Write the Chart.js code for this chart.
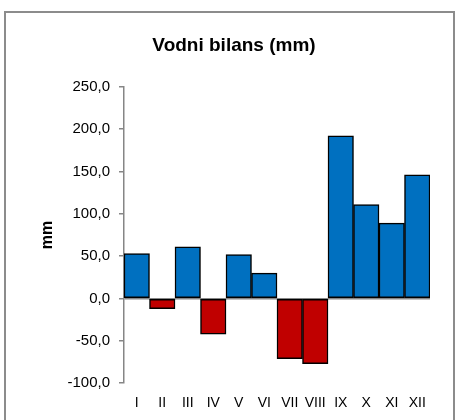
<!DOCTYPE html>
<html>
<head>
<meta charset="utf-8">
<script src="https://cdn.jsdelivr.net/npm/chart.js@4"></script>
<style>
    body { margin: 0; background: #fff; }
    #wrap { position: relative; width: 459px; height: 420px; overflow: hidden; }
    #frame { position: absolute; left: 4px; top: 11px; width: 451px; height: 430px; border: 2px solid #8c8c8c; box-sizing: border-box; }
    canvas { position: absolute; left: 0; top: 0; }
</style>
</head>
<body>
<div id="wrap">
    <div id="frame"></div>
    <canvas id="chart" width="459" height="432"></canvas>
</div>
<script>
const months = ["I", "II", "III", "IV", "V", "VI", "VII", "VIII", "IX", "X", "XI", "XII"];
const balance = [53, -12, 61, -42, 52, 30, -71, -77, 192, 111, 89, 146];
const yTicks = [-100, -50, 0, 50, 100, 150, 200, 250];

const FONT = "'Liberation Sans', Arial, sans-serif";

// blue for surplus, red for deficit
const barColors = balance.map(v => v >= 0 ? "#0070C0" : "#C00000");

const ctx = document.getElementById("chart");

new Chart(ctx, {
    type: "bar",
    data: {
        labels: months,
        datasets: [{
            label: "Vodni bilans",
            data: balance,
            backgroundColor: barColors,
            borderColor: "#000",
            borderWidth: 1.5,
            borderSkipped: false,
            barPercentage: 1,
            categoryPercentage: 1
        }]
    },
    options: {
        responsive: false,
        animation: false,
        layout: { padding: { left: 38, right: 29, top: 0, bottom: 8 } },
        plugins: {
            legend: { display: false },
            tooltip: { enabled: false },
            title: {
                display: true,
                text: "Vodni bilans (mm)",
                color: "#000",
                font: { family: FONT, size: 19, weight: "bold" },
                padding: { top: 34, bottom: 30 }
            }
        },
        scales: {
            x: {
                border: { display: false },
                grid: { display: false, drawTicks: false },
                ticks: { color: "#000", font: { family: FONT, size: 14 }, padding: 12, maxRotation: 0, autoSkip: false }
            },
            y: {
                min: yTicks[0],
                max: yTicks[yTicks.length - 1],
                afterBuildTicks: scale => { scale.ticks = yTicks.map(v => ({ value: v })); },
                afterFit: scale => { scale.width = 86; },
                border: { color: "#868686", width: 1.5 },
                grid: {
                    color: c => c.tick && c.tick.value === 0 ? "#868686" : "rgba(0,0,0,0)",
                    lineWidth: 1.5,
                    tickColor: "#868686",
                    tickLength: 5
                },
                ticks: {
                    color: "#000",
                    font: { family: FONT, size: 15 },
                    padding: 9,
                    callback: v => v.toFixed(1).replace(".", ",")
                },
                title: {
                    display: true,
                    text: "mm",
                    color: "#000",
                    font: { family: FONT, size: 16, weight: "bold" },
                    padding: 0
                }
            }
        }
    }
});
</script>
</body>
</html>
